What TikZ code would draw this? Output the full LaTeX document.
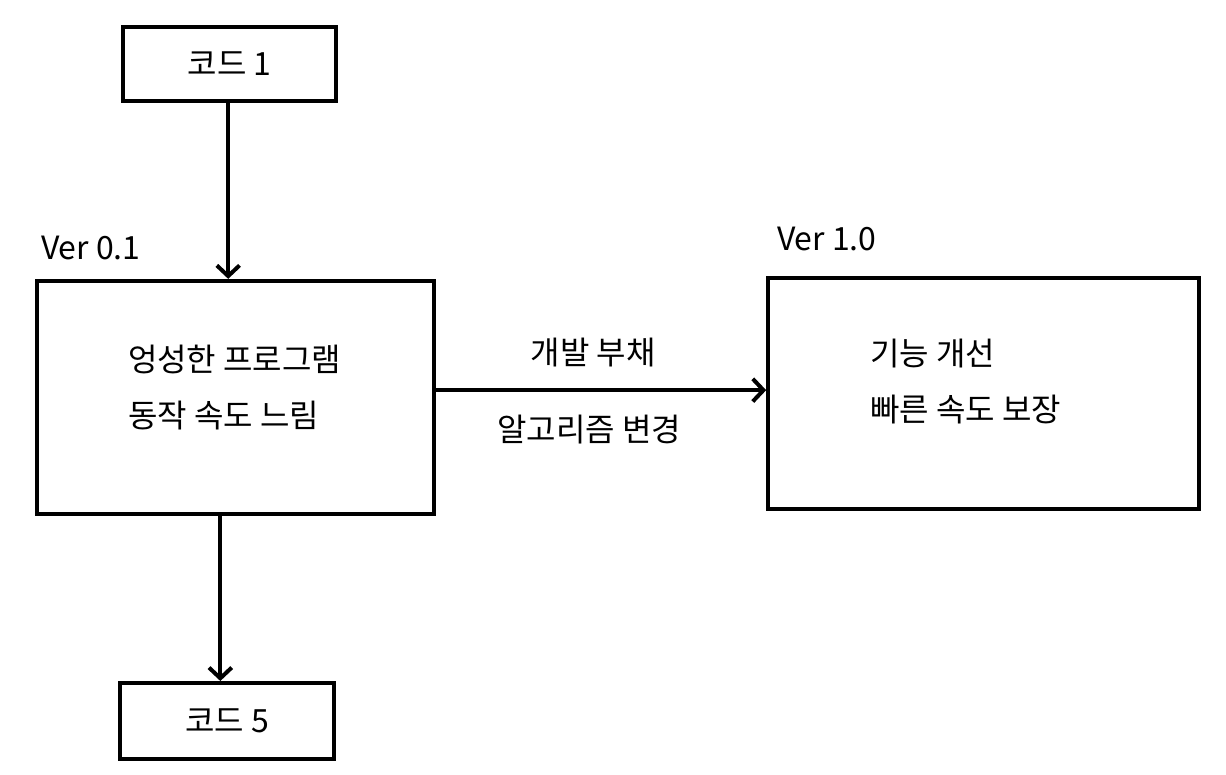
\documentclass[tikz,border=0pt]{standalone}
\usepackage{fontspec}
\setmainfont{Noto Sans CJK KR}
\usetikzlibrary{arrows.meta}

\begin{document}
\begin{tikzpicture}[x=0.75pt,y=-0.75pt,line width=3pt,
		>={Straight Barb[length=8pt,width=17pt]},
		every node/.style={font=\fontsize{24}{42}\selectfont},
		code box/.style={draw,rectangle,minimum width=160pt,minimum height=56pt},
		ver box/.style={draw,rectangle},
		note/.style={inner sep=0pt,align=left}
		]
	\useasboundingbox (0,0) rectangle (1226,774);

	\node [code box] (code1) at (229.5,64) {코드 1};
	\node [ver box,minimum width=298pt,minimum height=175pt] (slow) at (235.5,397.5) {};
	\node [code box,minimum height=57pt] (code5) at (227,721) {코드 5};
	\node [ver box,minimum width=323pt,minimum height=173pt] (fast) at (983.5,393.5) {};

	\node [note,anchor=west] (v01) at (39,248) {Ver 0.1};
	\node [note,anchor=west] (v10) at (775,239) {Ver 1.0};
	\node [note,anchor=west] (slowtxt) at (126,388) {엉성한 프로그램\\동작 속도 느림};
	\node [note,anchor=west] (fasttxt) at (868,382) {기능 개선\\빠른 속도 보장};

	\draw [->] ([xshift=-1pt]code1.south) -- ([xshift=-1pt]code1.south |- slow.north);
	\draw [->] ([xshift=-5pt]slow.south -| code5.north) -- ([xshift=-5pt]code5.north);
	\draw [->] ([yshift=5.5pt]slow.east) -- ([yshift=5.5pt]slow.east -| fast.west)
		node [midway,above=16pt,inner sep=0pt,xshift=-6pt] (debt) {개발 부채}
		node [midway,below=17pt,inner sep=0pt,xshift=-9pt] (algo) {알고리즘 변경};

\end{tikzpicture}
\end{document}
